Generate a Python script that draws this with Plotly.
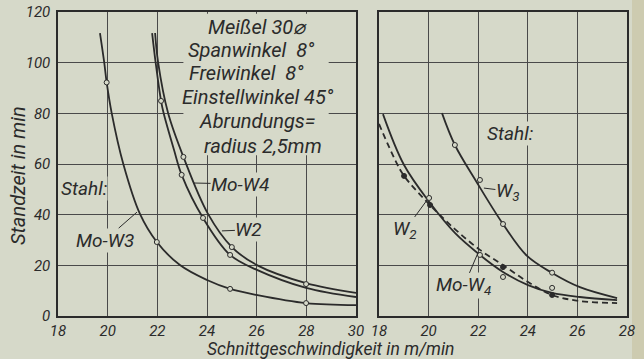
import plotly.graph_objects as go

# ---------------- data ----------------
# left panel: Stahl, tool life (min) vs cutting speed (m/min)
l_mow3_x = [19.69, 19.86, 19.96, 20.16, 20.63, 21.30, 21.98, 22.91, 24.0, 24.93, 26.01, 27.99, 30.0]
l_mow3_y = [111.7, 100.2, 92.2, 80.2, 60.0, 40.3, 29.2, 20.1, 14.2, 10.7, 8.3, 5.1, 4.3]
l_mow3_mx = [19.96, 21.98, 24.93, 27.99]
l_mow3_my = [92.2, 29.2, 10.7, 5.1]

l_mow4_x = [21.79, 21.93, 22.15, 22.25, 22.67, 22.98, 23.84, 24.93, 26.01, 27.99, 30.0]
l_mow4_y = [111.7, 100.2, 84.9, 80.2, 65.6, 55.7, 38.7, 24.1, 18.2, 11.1, 7.5]
l_mow4_mx = [22.15, 22.98, 23.84, 24.93]
l_mow4_my = [84.9, 55.7, 38.7, 24.1]

l_w2_x = [21.91, 22.03, 22.43, 23.05, 24.04, 25.0, 26.01, 27.99, 30.0]
l_w2_y = [111.7, 100.2, 80.2, 62.8, 40.3, 27.2, 20.1, 13.0, 9.1]
l_w2_mx = [23.05, 25.0, 27.99]
l_w2_my = [62.8, 27.2, 12.6]

# right panel
r_w3_x = [20.54, 21.06, 21.91, 23.0, 23.97, 24.98, 26.1, 27.6]
r_w3_y = [80.1, 67.5, 53.3, 36.3, 23.7, 17.0, 11.4, 7.1]
r_w3_mx = [21.06, 22.07, 23.0, 24.98]
r_w3_my = [67.5, 53.7, 36.3, 17.1]

r_mow4_x = [18.16, 19.01, 20.06, 21.06, 22.07, 23.0, 24.01, 24.98, 26.1, 27.6]
r_mow4_y = [79.7, 59.6, 44.6, 32.8, 24.1, 17.4, 12.2, 9.1, 7.5, 6.3]
r_mow4_mx = [20.02, 22.07, 23.0, 24.98]
r_mow4_my = [46.6, 24.1, 15.4, 11.1]

r_w2_x = [18.0, 18.65, 19.01, 19.98, 21.06, 22.07, 23.0, 24.01, 24.98, 26.1, 27.6]
r_w2_y = [75.8, 61.6, 55.3, 44.6, 34.3, 26.1, 20.1, 13.4, 8.3, 5.9, 5.1]
r_w2_mx = [19.01, 20.06, 23.0, 24.98]
r_w2_my = [55.3, 43.8, 19.3, 8.3]

x_left_ticks = [18, 20, 22, 24, 26, 28, 30]
x_right_ticks = [18, 20, 22, 24, 26, 28]
y_ticks = [0, 20, 40, 60, 80, 100, 120]

info_lines = ["Meißel 30⌀", "Spanwinkel  8°", "Freiwinkel  8°",
              "Einstellwinkel 45°", "Abrundungs=", "radius 2,5mm"]

# ---------------- style ----------------
BG = "#d6d9c9"
INK = "#2b2b2b"
GRID = "#4a4a4a"
FONT = "Roboto, Liberation Sans, sans-serif"
ifont = dict(family=FONT, size=19, color=INK, style="italic")

fig = go.Figure()

def curve(x, y, xa, ya, dash="solid"):
    fig.add_trace(go.Scatter(x=x, y=y, mode="lines", xaxis=xa, yaxis=ya,
                             line=dict(color=INK, width=1.8, shape="spline",
                                       smoothing=1.0, dash=dash),
                             hoverinfo="skip", showlegend=False))

def marks(x, y, xa, ya, filled=False):
    fig.add_trace(go.Scatter(x=x, y=y, mode="markers", xaxis=xa, yaxis=ya,
                             marker=dict(symbol="circle", size=5,
                                         color=INK if filled else BG,
                                         line=dict(color=INK, width=1)),
                             hoverinfo="skip", showlegend=False))

curve(l_mow3_x, l_mow3_y, "x", "y")
curve(l_mow4_x, l_mow4_y, "x", "y")
curve(l_w2_x, l_w2_y, "x", "y")
marks(l_mow3_mx, l_mow3_my, "x", "y")
marks(l_mow4_mx, l_mow4_my, "x", "y")
marks(l_w2_mx, l_w2_my, "x", "y")

curve(r_w3_x, r_w3_y, "x2", "y2")
curve(r_mow4_x, r_mow4_y, "x2", "y2")
curve(r_w2_x, r_w2_y, "x2", "y2", dash="6px,4px")
marks(r_w3_mx, r_w3_my, "x2", "y2")
marks(r_mow4_mx, r_mow4_my, "x2", "y2")
marks(r_w2_mx, r_w2_my, "x2", "y2", filled=True)

axis_common = dict(showgrid=True, gridcolor=GRID, gridwidth=1, zeroline=False,
                   showline=True, mirror=True, linecolor=INK, linewidth=1.5,
                   ticks="", automargin=False,
                   tickfont=dict(family=FONT, size=15, color=INK, style="italic"),
                   fixedrange=True)

fig.update_layout(
    width=644, height=359, autosize=False, margin=dict(l=0, r=0, t=0, b=0, pad=0),
    paper_bgcolor=BG, plot_bgcolor=BG, showlegend=False,
    xaxis=dict(axis_common, domain=[58/644, 356/644], range=[18, 30],
               tickvals=x_left_ticks, anchor="y", ticklabelstandoff=0),
    yaxis=dict(axis_common, domain=[1-316/359, 1-12/359], range=[0, 120],
               tickvals=y_ticks, anchor="x", ticklabelstandoff=3),
    xaxis2=dict(axis_common, domain=[379/644, 627/644], range=[18, 28],
                tickvals=x_right_ticks, anchor="y2", ticklabelstandoff=0),
    yaxis2=dict(axis_common, domain=[1-316/359, 1-12/359], range=[0, 120],
                tickvals=y_ticks, showticklabels=False, anchor="x2"),
)

# slightly yellowed right edge of the scanned page
fig.add_shape(type="rect", xref="paper", yref="paper", x0=632/644, x1=1, y0=0, y1=1,
              fillcolor="#cdcbb0", line=dict(width=0), layer="below")

# blank area behind the tool description
fig.add_shape(type="rect", xref="x", yref="y", x0=23.05, x1=28.9, y0=63.5, y1=119.3,
              fillcolor=BG, line=dict(width=0), layer="between")

line_x = [257, 251, 246, 258, 257, 263]
line_y = [27, 50, 73, 97, 121, 146]
for txt, px, py in zip(info_lines, line_x, line_y):
    fig.add_annotation(text=txt, xref="paper", yref="paper", x=px/644, y=1-py/359,
                       showarrow=False, font=dict(ifont, size=20),
                       xanchor="center", yanchor="middle")

def label(txt, xa, ya, x, y, ax=None, ay=None):
    fig.add_annotation(text=txt, xref=xa, yref=ya, x=x, y=y, font=ifont,
                       showarrow=ax is not None, ax=ax or 0, ay=ay or 0,
                       arrowhead=0, arrowwidth=1, arrowcolor=INK,
                       bgcolor=BG, borderpad=0)

label("Stahl:", "x", "y", 19.05, 50.5)
label("Mo-W3", "x", "y", 21.18, 41, ax=-32, ay=28)
label("Mo-W4", "x", "y", 23.44, 52.5, ax=47, ay=1)
label("W2", "x", "y", 24.6, 33.6, ax=27, ay=-1)

label("Stahl:", "x2", "y2", 23.3, 72.2)
label("W<sub>3</sub>", "x2", "y2", 22.23, 50.5, ax=24, ay=3)
label("W<sub>2</sub>", "x2", "y2", 19.94, 45.8, ax=-22, ay=30)
label("Mo-W<sub>4</sub>", "x2", "y2", 21.99, 24.9, ax=-14, ay=33)

# axis titles
fig.add_annotation(text="Standzeit in min", xref="paper", yref="paper",
                   x=18/644, y=1-176/359, textangle=-90, showarrow=False,
                   xanchor="center", yanchor="middle", font=dict(ifont, size=20))
fig.add_annotation(text="Schnittgeschwindigkeit in m/min", xref="paper", yref="paper",
                   x=330/644, y=1-349/359, showarrow=False,
                   xanchor="center", yanchor="middle", font=dict(ifont, size=17.5))

fig.write_html("out.html", config={"displayModeBar": False},
               post_script="document.body.style.margin='0';"
                           "document.body.style.overflow='hidden';")
